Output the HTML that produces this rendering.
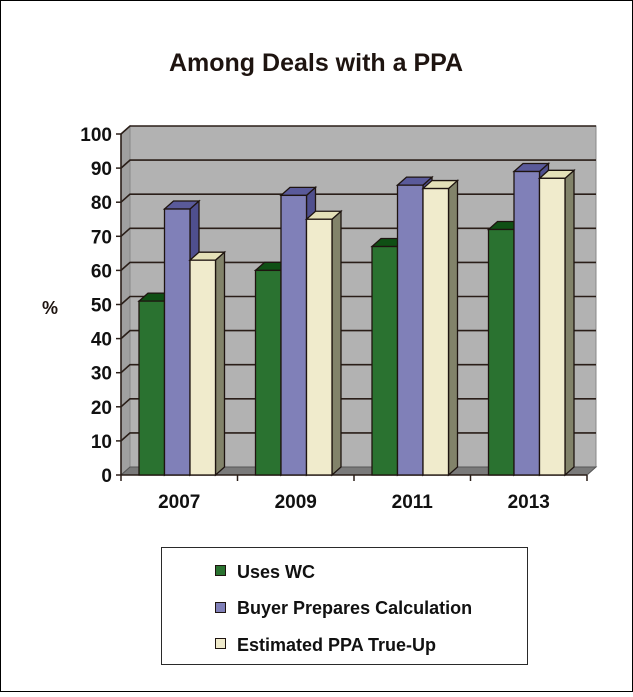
<!DOCTYPE html>
<html><head><meta charset="utf-8">
<style>
html,body{margin:0;padding:0;background:#fff;}
body{width:633px;height:692px;overflow:hidden;font-family:"Liberation Sans",sans-serif;}
</style></head>
<body>
<svg width="633" height="692" xmlns="http://www.w3.org/2000/svg">
<rect x="0.5" y="0.5" width="632" height="691" fill="#fff" stroke="#000"/>
<text x="316" y="71" text-anchor="middle" font-size="25" font-weight="bold" fill="#1e1410">Among Deals with a PPA</text>
<text x="50" y="314" text-anchor="middle" font-size="18" font-weight="bold" fill="#1e1410">%</text>
<g id="plot"></g>
<g>
<rect x="161.5" y="547.5" width="366" height="117" fill="#fff" stroke="#2a2a2a"/>
<rect x="215.5" y="565.5" width="10" height="10" fill="#2a7230" stroke="#1e1410"/>
<text x="237" y="578" font-size="18" font-weight="bold" fill="#111">Uses WC</text>
<rect x="215.5" y="602.5" width="10" height="10" fill="#8080b8" stroke="#1e1410"/>
<text x="237" y="614" font-size="18" font-weight="bold" fill="#111">Buyer Prepares Calculation</text>
<rect x="215.5" y="638.5" width="10" height="10" fill="#f0ebcc" stroke="#1e1410"/>
<text x="237" y="651" font-size="18" font-weight="bold" fill="#111">Estimated PPA True-Up</text>
</g>
</svg>
<script>
const categories = ["2007","2009","2011","2013"];
const usesWC = [51, 60, 67, 72];
const buyerPrepares = [78, 82, 85, 89];
const ppaTrueUp = [63, 75, 84, 87];
const yTicks = [0,10,20,30,40,50,60,70,80,90,100];

const NS="http://www.w3.org/2000/svg";
const g=document.getElementById('plot');
const x0=121, x1=587, y0=475, yTop=134, dx=9, dy=-8;
const yScale=v=>y0-(v/100)*(y0-yTop);
const catW=(x1-x0)/categories.length;
function el(tag,attrs,parent){const e=document.createElementNS(NS,tag);for(const k in attrs)e.setAttribute(k,attrs[k]);(parent||g).appendChild(e);return e;}
// back wall
let w=el('polygon',{points:`${x0+dx},${yScale(100)+dy} ${x1+dx},${yScale(100)+dy} ${x1+dx},${y0+dy} ${x0+dx},${y0+dy}`,fill:'#b2b2b2',stroke:'#888'});


// side wall
let s=el('polygon',{points:`${x0},${yScale(100)} ${x0+dx},${yScale(100)+dy} ${x0+dx},${y0+dy} ${x0},${y0}`,fill:'#a0a0a0',stroke:'#888'});


// floor
let f=el('polygon',{points:`${x0},${y0} ${x0+dx},${y0+dy} ${x1+dx},${y0+dy} ${x1},${y0}`,fill:'#7a7a7a',stroke:'#555'});


// gridlines & ticks
yTicks.forEach(t=>{
  const y=yScale(t);
  if(t>0){
    let l=el('polyline',{points:`${x0},${y} ${x0+dx},${y+dy} ${x1+dx},${y+dy}`,fill:'none',stroke:'#2a1e18','stroke-width':1.6});
    
    
  }
  let tk=el('line',{x1:x0-5,y1:y,x2:x0,y2:y,stroke:'#2a1e18','stroke-width':1.5});
  
  
  let tx=el('text',{x:x0-9,y:y+7,'text-anchor':'end','font-size':19,'font-weight':'bold',fill:'#111'});
  tx.textContent=t;
  
  
});
let ya=el('line',{x1:x0,y1:yScale(100),x2:x0,y2:y0,stroke:'#2a1e18','stroke-width':1.6});


let xa=el('line',{x1:x0,y1:y0,x2:x1,y2:y0,stroke:'#2a1e18','stroke-width':1.6});


for(let i=0;i<=categories.length;i++){
  let t=el('line',{x1:x0+i*catW,y1:y0,x2:x0+i*catW,y2:y0+6,stroke:'#2a1e18','stroke-width':1.5});
  
  
}
const series=[
  {name:'uses-wc',data:usesWC,front:'#2a7230',top:'#0f4f14',side:'#1c5a20'},
  {name:'buyer',data:buyerPrepares,front:'#8080b8',top:'#5a5a9a',side:'#4f4f8e'},
  {name:'ppa',data:ppaTrueUp,front:'#f0ebcc',top:'#e4e0b8',side:'#82836a'}
];
const barW=25.5, off=18;
categories.forEach((c,i)=>{
  series.forEach((sr,j)=>{
    const bx=x0+i*catW+off+j*barW, by=yScale(sr.data[i]), bw=barW;
    const grp=el('g',{});
    
    
    el('polygon',{points:`${bx+bw},${by} ${bx+bw+dx},${by+dy} ${bx+bw+dx},${y0+dy} ${bx+bw},${y0}`,fill:sr.side,stroke:'#1e1410','stroke-width':1.3},grp);
    el('polygon',{points:`${bx},${by} ${bx+dx},${by+dy} ${bx+bw+dx},${by+dy} ${bx+bw},${by}`,fill:sr.top,stroke:'#1e1410','stroke-width':1.3},grp);
    el('rect',{x:bx,y:by,width:bw,height:y0-by,fill:sr.front,stroke:'#1e1410','stroke-width':1.3},grp);
  });
  let tx=el('text',{x:x0+(i+0.5)*catW,y:508,'text-anchor':'middle','font-size':19,'font-weight':'bold',fill:'#111'});
  tx.textContent=c;
  
  
});
</script>
</body></html>
